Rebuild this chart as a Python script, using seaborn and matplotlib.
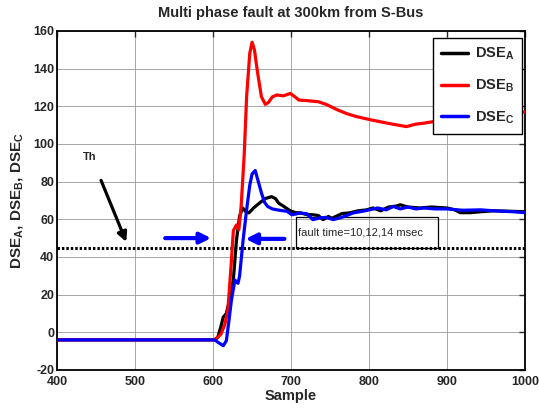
import numpy as np
import pandas as pd
import matplotlib
matplotlib.use("Agg")
import matplotlib.pyplot as plt
import seaborn as sns
from matplotlib.patches import Rectangle

# ---- data ----
red_x = [400, 600, 604, 610, 615, 619, 623, 626, 630, 633, 636, 640, 643, 647, 650, 653, 657, 662, 667,
         671, 676, 682, 690, 699, 705, 710, 720, 735, 745, 760, 772, 784, 800, 814, 830, 848, 860, 870,
         885, 900, 920, 940, 960, 980, 1000]
red_y = [-4, -4, -3.5, -1, 4, 12, 35, 54, 57, 54.5, 67, 95, 125, 148, 154, 150, 138, 125, 121,
         122, 125, 126, 125.5, 126.8, 125, 123.3, 123, 122.4, 121, 118, 116, 114.5, 113, 111.8, 110.5,
         109.2, 110.5, 111, 112, 112.7, 113.5, 114.5, 115.5, 116.5, 117]

black_x = [400, 602, 606, 610, 613, 617, 621, 626, 630, 634, 638, 642, 646, 652, 660, 667, 675, 680,
           684, 690, 699, 706, 712, 720, 728, 735, 741, 748, 752, 758, 765, 775, 786, 797, 805, 815,
           825, 835, 840, 850, 865, 880, 900, 910, 917, 930, 943, 960, 985, 1000]
black_y = [-4, -4, -2.7, 3, 8, 10, 17, 28, 49, 61.6, 66, 64, 63.4, 66, 68.8, 71, 72, 71,
           68.6, 67, 64.5, 63.5, 63.4, 62.5, 62.4, 62, 59.8, 61.5, 60.5, 61.6, 63, 63.4, 64.5, 65, 66,
           64.5, 66.5, 67, 67.7, 66.5, 66, 66.5, 66, 65, 63.5, 63.5, 64, 64.5, 64.2, 64]

blue_x = [400, 602, 607, 613, 617, 620, 623.5, 628, 632, 634, 638.5, 643, 647, 650, 654, 658, 662,
          666, 670, 676, 682, 690, 695, 701, 706, 712, 720, 728, 737, 745, 754, 765, 780, 795, 811,
          822, 831, 840, 850, 860, 870, 885, 900, 920, 943, 960, 985, 1000]
blue_y = [-4, -4, -5.5, -7.1, -4.5, 5, 17, 27.7, 26, 30, 49, 65, 78, 84, 85.9, 80, 74,
          69, 66.8, 65.5, 65, 64.5, 64.2, 62.4, 62.8, 63.3, 63, 59.8, 60.7, 61, 59.8, 61, 63.4, 64.5,
          66, 65, 66.8, 65.5, 66.5, 65.5, 66, 65.5, 65.5, 64.8, 65, 64.5, 64, 63.5]

threshold = 45
x_ticks = [400, 500, 600, 700, 800, 900, 1000]
y_ticks = [-20, 0, 20, 40, 60, 80, 100, 120, 140, 160]
series_labels = ["DSE$_\\mathbf{A}$", "DSE$_\\mathbf{B}$", "DSE$_\\mathbf{C}$"]
colors = ["#000000", "#ff0000", "#0000ff"]

# ---- styling ----
sns.set_style("white")
plt.rcParams["font.family"] = ["Liberation Sans", "DejaVu Sans"]
plt.rcParams["mathtext.fontset"] = "custom"
plt.rcParams["mathtext.rm"] = "Liberation Sans:bold"
plt.rcParams["mathtext.bf"] = "Liberation Sans:bold"
plt.rcParams["mathtext.it"] = "Liberation Sans:bold"

fig = plt.figure(figsize=(5.39, 4.12), dpi=100)
ax = fig.add_axes([0.106, 0.102, 0.868, 0.823])

frames = []
for lab, xs, ys in zip(series_labels, [black_x, red_x, blue_x], [black_y, red_y, blue_y]):
    frames.append(pd.DataFrame({"Sample": xs, "DSE": ys, "series": lab}))
df = pd.concat(frames, ignore_index=True)

sns.lineplot(data=df, x="Sample", y="DSE", hue="series", palette=dict(zip(series_labels, colors)),
             estimator=None, sort=False, linewidth=2.3, ax=ax, zorder=3)

# threshold line
ax.axhline(threshold, color="black", linewidth=2.2, linestyle=(0, (0.8, 0.65)), zorder=2)

ax.set_xlim(400, 1000)
ax.set_ylim(-20, 160)
ax.set_xticks(x_ticks)
ax.set_yticks(y_ticks)
ax.set_xticklabels([str(t) for t in x_ticks], fontweight="bold", fontsize=9)
ax.set_yticklabels([str(t) for t in y_ticks], fontweight="bold", fontsize=9)
ax.tick_params(direction="in", length=4, width=1, top=True, right=True, pad=2)
ax.tick_params(axis="x", pad=4)
ax.grid(True, color="0.6", linewidth=0.6)
for s in ax.spines.values():
    s.set_color("black")
    s.set_linewidth(1.3)
    s.set_visible(True)

ax.set_xlabel("Sample", fontweight="bold", fontsize=10.5, labelpad=1)
ax.set_ylabel("DSE$_\\mathbf{A}$, DSE$_\\mathbf{B}$, DSE$_\\mathbf{C}$", fontweight="bold", fontsize=11, labelpad=6)
ax.set_title("Multi phase fault at 300km from S-Bus", fontweight="bold", fontsize=10.5, pad=10)

# legend
handles, labels = ax.get_legend_handles_labels()
leg = ax.legend(handles, labels, loc="upper right", bbox_to_anchor=(0.994, 0.979), borderaxespad=0,
                fancybox=False, edgecolor="black", framealpha=1, handlelength=1.8,
                labelspacing=1.05, borderpad=0.55, handletextpad=0.5,
                prop={"weight": "bold", "size": 10.5})
leg.get_frame().set_linewidth(1.0)
for lh in leg.get_lines():
    lh.set_linewidth(2.5)

# annotations
ax.text(442, 93, "Th", fontsize=8, fontweight="bold", ha="center", va="center")
ax.annotate("", xy=(490, 46.6), xytext=(455, 82),
            arrowprops=dict(arrowstyle="-|>", lw=2.3, color="black", mutation_scale=14))
ax.annotate("", xy=(601, 50), xytext=(535, 50),
            arrowprops=dict(arrowstyle="-|>", lw=3, color="#0000ff", mutation_scale=16))
ax.annotate("", xy=(638, 49.6), xytext=(695, 49.6),
            arrowprops=dict(arrowstyle="-|>", lw=3, color="#0000ff", mutation_scale=16))
ax.add_patch(Rectangle((706, 45), 182, 16, fill=False, edgecolor="black", linewidth=0.9, zorder=2))
ax.text(709, 53, "fault time=10,12,14 msec", fontsize=8, ha="left", va="center", zorder=4)

fig.savefig("out.png", dpi=100)
